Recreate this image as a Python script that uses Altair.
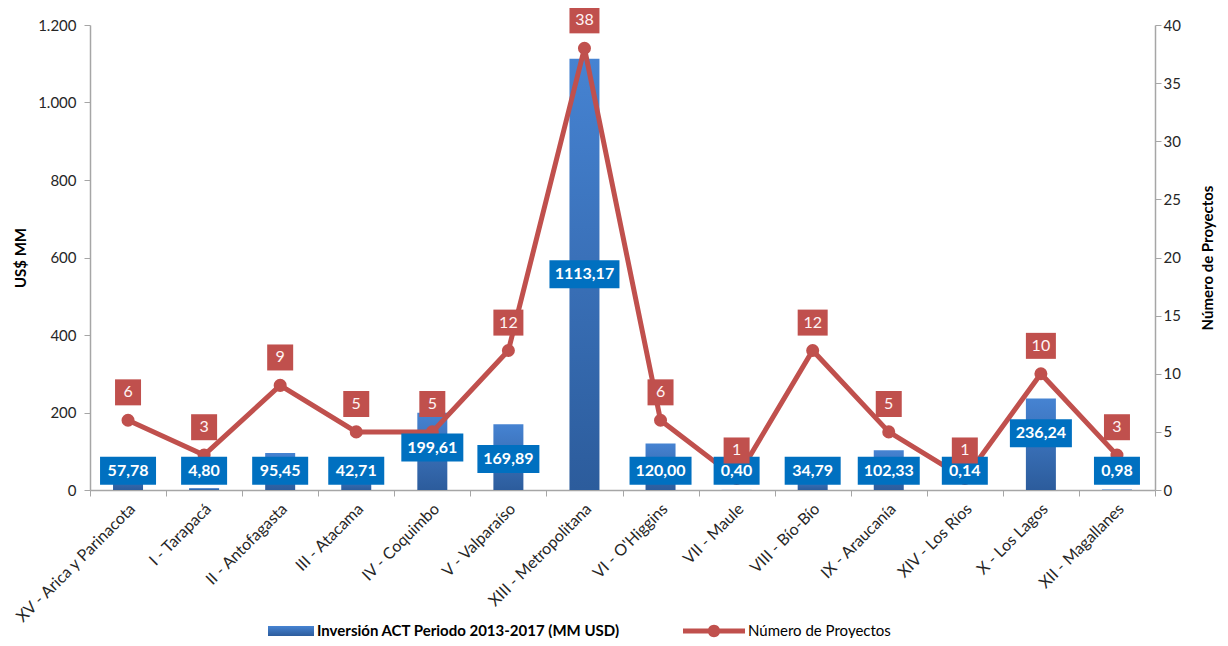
import altair as alt
import pandas as pd

FONT = "Lato"
BLUE_BOX = "#0070c0"
RED = "#c0504d"
AXIS_GRAY = "#a6a6a6"

regions = [
    "XV - Arica y Parinacota", "I - Tarapacá", "II - Antofagasta", "III - Atacama",
    "IV - Coquimbo", "V - Valparaíso", "XIII - Metropolitana", "VI - O'Higgins",
    "VII - Maule", "VIII - Bío-Bío", "IX - Araucanía", "XIV - Los Ríos",
    "X - Los Lagos", "XII - Magallanes",
]
inversion = [57.78, 4.80, 95.45, 42.71, 199.61, 169.89, 1113.17, 120.00,
             0.40, 34.79, 102.33, 0.14, 236.24, 0.98]
proyectos = [6, 3, 9, 5, 5, 12, 38, 6, 1, 12, 5, 1, 10, 3]

SERIE_INV = "Inversión ACT Periodo 2013-2017 (MM USD)"
SERIE_PROJ = "Número de Proyectos"


def fmt(v):
    return f"{v:.2f}".replace(".", ",")


df = pd.DataFrame({"region": regions, "inv": inversion, "proj": proyectos})
df["inv_txt"] = [fmt(v) for v in inversion]
df["inv_lab"] = [v / 2 if v > 500 else max(v - 90, 50) for v in inversion]
df["inv_len"] = df["inv_txt"].str.len().astype(str)
df["proj_txt"] = df["proj"].astype(str)
df["proj_lab"] = df["proj"] + 2.4
df["proj_len"] = df["proj_txt"].str.len().astype(str)
df["serie_inv"] = SERIE_INV
df["serie_proj"] = SERIE_PROJ

K = 35  # sqrt(4900)/2


def box(w, h, k=K):
    a, b = w / 2 / k, h / 2 / k
    return f"M{-a:.4f},{-b:.4f}L{a:.4f},{-b:.4f}L{a:.4f},{b:.4f}L{-a:.4f},{b:.4f}Z"


x_enc = alt.X(
    "region:N", sort=regions,
    scale=alt.Scale(paddingInner=0, paddingOuter=0),
    axis=alt.Axis(title=None, labelAngle=315, labelAlign="right", labelBaseline="middle",
                  labelFontSize=16, labelColor="#262626", labelFont=FONT, labelPadding=10,
                  labelOffset=4, tickBand="extent", domainColor=AXIS_GRAY, tickColor=AXIS_GRAY,
                  tickSize=6, domainWidth=1.5, labelLimit=300),
)

yl_axis = alt.Axis(
    title="US$ MM", values=list(range(0, 1201, 200)),
    labelExpr="replace(format(datum.value, ','), ',', '.')",
    grid=False, titleFontSize=15, titleFontWeight="bold", titleFont=FONT, titleColor="#000",
    labelFontSize=15, labelFont=FONT, labelColor="#262626", labelPadding=8,
    domainColor=AXIS_GRAY, tickColor=AXIS_GRAY, tickSize=6, domainWidth=1.5, titlePadding=9,
)
yl_scale = alt.Scale(domain=[0, 1200], nice=False)

yr_axis = alt.Axis(
    title="Número de Proyectos", orient="right", values=list(range(0, 41, 5)),
    grid=False, titleFontSize=15, titleFontWeight="bold", titleFont=FONT, titleColor="#000",
    titleAngle=270, titleBaseline="top", titlePadding=20,
    labelFontSize=15, labelFont=FONT, labelColor="#262626",
    domainColor=AXIS_GRAY, tickColor=AXIS_GRAY, tickSize=6, domainWidth=1.5,
)
yr_scale = alt.Scale(domain=[0, 40], nice=False)

base = alt.Chart(df)

grad = alt.Gradient(
    gradient="linear",
    stops=[alt.GradientStop(color="#4683d2", offset=0),
           alt.GradientStop(color="#2c5c9c", offset=1)],
    x1=0, x2=0, y1=0, y2=1,
)

bars = base.mark_bar(size=30, color=grad).encode(
    x=x_enc,
    y=alt.Y("inv:Q", scale=yl_scale, axis=yl_axis),
    opacity=alt.Opacity(
        "serie_inv:O", scale=alt.Scale(domain=[SERIE_INV], range=[1, 1]),
        legend=alt.Legend(
            title=None, orient="none", legendX=178, legendY=583,
            symbolType="M-1,-0.22L1,-0.22L1,0.22L-1,0.22Z", symbolSize=46 * 46,
            symbolFillColor="#3a70b8", symbolStrokeWidth=0, symbolOpacity=1,
            labelFont=FONT, labelFontSize=15, labelFontWeight="bold", labelColor="#000",
            labelOffset=3, labelLimit=600,
        ),
    ),
)

line = base.mark_line(color=RED, strokeWidth=5).encode(
    x=x_enc,
    y=alt.Y("proj:Q", scale=yr_scale, axis=yr_axis),
)

points = base.mark_circle(size=170, opacity=1).encode(
    x=x_enc,
    y=alt.Y("proj:Q", scale=yr_scale, axis=yr_axis),
    color=alt.Color(
        "serie_proj:N", scale=alt.Scale(domain=[SERIE_PROJ], range=[RED]),
        legend=alt.Legend(
            title=None, orient="none", legendX=593, legendY=575,
            symbolType=("M-1,-0.08L1,-0.08L1,0.08L-1,0.08Z "
                        "M0.2,0A0.2,0.2 0 1,1 -0.2,0A0.2,0.2 0 1,1 0.2,0Z"),
            symbolSize=62 * 62, symbolStrokeWidth=0,
            labelFont=FONT, labelFontSize=15, labelColor="#000", labelOffset=3,
            labelLimit=600,
        ),
    ),
)

blue_boxes = base.mark_point(filled=True, opacity=1, color=BLUE_BOX, size=4900,
                             strokeWidth=0).encode(
    x=x_enc,
    y=alt.Y("inv_lab:Q", scale=yl_scale, axis=None),
    shape=alt.Shape("inv_len:N",
                    scale=alt.Scale(domain=["4", "5", "6", "7"],
                                    range=[box(46, 28), box(56, 28), box(62, 28), box(70, 28)]),
                    legend=None),
)

blue_text = base.mark_text(color="white", fontWeight="bold", fontSize=16, font=FONT,
                           baseline="middle").encode(
    x=x_enc,
    y=alt.Y("inv_lab:Q", scale=yl_scale, axis=None),
    text="inv_txt:N",
)

red_boxes = base.mark_point(filled=True, opacity=1, color=RED, size=4900,
                            strokeWidth=0).encode(
    x=x_enc,
    y=alt.Y("proj_lab:Q", scale=yr_scale, axis=None),
    shape=alt.Shape("proj_len:N",
                    scale=alt.Scale(domain=["1", "2"], range=[box(26, 26), box(30, 26)]),
                    legend=None),
)

red_text = base.mark_text(color="#fff4f4", fontSize=16, font=FONT,
                          baseline="middle").encode(
    x=x_enc,
    y=alt.Y("proj_lab:Q", scale=yr_scale, axis=None),
    text="proj_txt:N",
)

chart = alt.layer(
    bars,
    alt.layer(line, points),
    alt.layer(blue_boxes, blue_text),
    alt.layer(red_boxes, red_text),
).resolve_scale(
    y="independent", shape="independent", color="independent", opacity="independent"
).properties(
    width=1065, height=465,
    autosize=alt.AutoSizeParams(type="none"),
    padding={"left": 82, "top": 17, "right": 65, "bottom": 148},
    background="white",
).configure_view(stroke=None)

chart.save("out.html", embed_options={"renderer": "svg", "actions": False})
